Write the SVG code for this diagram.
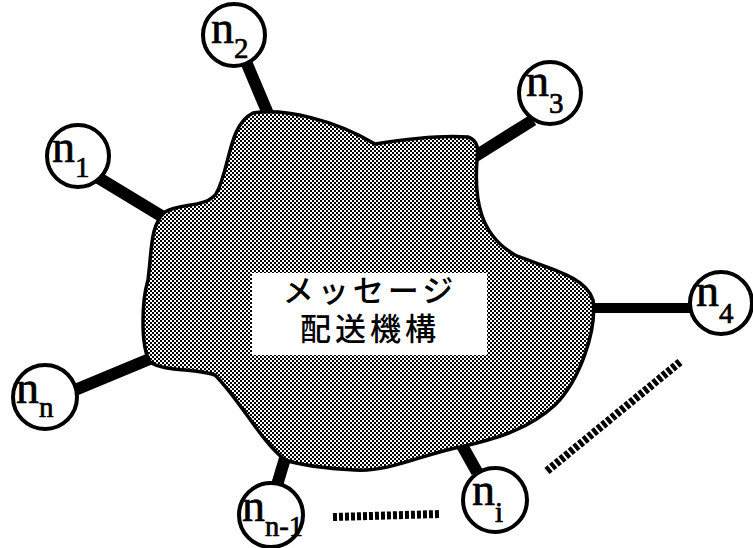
<svg xmlns="http://www.w3.org/2000/svg" width="753" height="548" viewBox="0 0 753 548">
<style>
.node circle{fill:#fff;stroke:#000;stroke-width:4}
.lab{font-family:"Liberation Serif","Times New Roman",serif;font-size:46px;fill:#000;stroke:#000;stroke-width:0.7}
.sub{font-size:29px}
.conn{stroke:#000;stroke-width:12;stroke-linecap:butt}
.dots{stroke:#000;stroke-width:8;stroke-dasharray:4 2;fill:none}
.jp{font-family:"Noto Sans CJK JP","Noto Sans",sans-serif;font-size:31px;font-weight:500;fill:#000;text-anchor:middle;letter-spacing:4px}
</style>
<defs>
<pattern id="ht" patternUnits="userSpaceOnUse" width="4" height="4">
<rect width="4" height="4" fill="#fff"/>
<rect width="2" height="2" fill="#000"/>
<rect x="2" y="2" width="2" height="2" fill="#000"/>
</pattern>
</defs>
<rect width="753" height="548" fill="#fff"/>
<g id="connectors">
<line class="conn" x1="97" y1="177" x2="168" y2="220"/>
<line class="conn" x1="247" y1="64" x2="269" y2="116"/>
<line class="conn" x1="533" y1="120" x2="474" y2="157"/>
<line class="conn" x1="590" y1="308" x2="692" y2="308" style="stroke-width:10"/>
<line class="conn" x1="75" y1="390" x2="152" y2="358"/>
<line class="conn" x1="277" y1="485" x2="286" y2="455"/>
<line class="conn" x1="477" y1="472" x2="459" y2="440"/>
<line class="dots" x1="333" y1="517" x2="440" y2="514"/>
<line class="dots" x1="547" y1="471" x2="680" y2="362"/>
</g>
<g id="network">
<path d="M 253,113 C 285,108 335,120 375,144 C 400,140 440,135 468,137 C 479,141 478,150 477,160 C 474,200 480,235 515,255 C 545,268 585,275 593,300 C 597,330 580,380 555,405 C 530,428 500,438 460,447 C 420,455 390,472 355,470 C 320,468 300,465 285,460 C 260,440 240,400 215,375 C 195,368 165,372 150,362 C 140,345 142,300 148,280 C 152,250 150,225 165,212 C 180,203 205,208 216,194 C 230,170 228,125 253,113 Z" fill="url(#ht)" stroke="#000" stroke-width="3.5"/>
<rect x="252" y="273" width="235" height="82" fill="#fff"/>
<text class="jp"><tspan x="370" y="302">メッセージ</tspan><tspan x="370" y="340">配送機構</tspan></text>
</g>
<g id="n1" class="node"><circle cx="78" cy="156" r="31"/><text class="lab" x="52" y="162">n<tspan class="sub" dy="15">1</tspan></text></g>
<g id="n2" class="node"><circle cx="234" cy="35" r="31"/><text class="lab" x="211" y="43">n<tspan class="sub" dy="15">2</tspan></text></g>
<g id="n3" class="node"><circle cx="550" cy="93" r="31"/><text class="lab" x="526" y="96">n<tspan class="sub" dy="17">3</tspan></text></g>
<g id="n4" class="node"><circle cx="721" cy="303" r="31"/><text class="lab" x="696" y="306">n<tspan class="sub" dy="17">4</tspan></text></g>
<g id="nn" class="node"><circle cx="45" cy="397" r="32"/><text class="lab" x="16" y="403">n<tspan class="sub" dy="14">n</tspan></text></g>
<g id="nn-1" class="node"><circle cx="271" cy="515" r="32"/><text class="lab" x="242" y="521">n<tspan class="sub" dy="15" textLength="38" lengthAdjust="spacingAndGlyphs">n-1</tspan></text></g>
<g id="ni" class="node"><circle cx="495" cy="500" r="32"/><text class="lab" x="472" y="505">n<tspan class="sub" dy="17">i</tspan></text></g>
</svg>
